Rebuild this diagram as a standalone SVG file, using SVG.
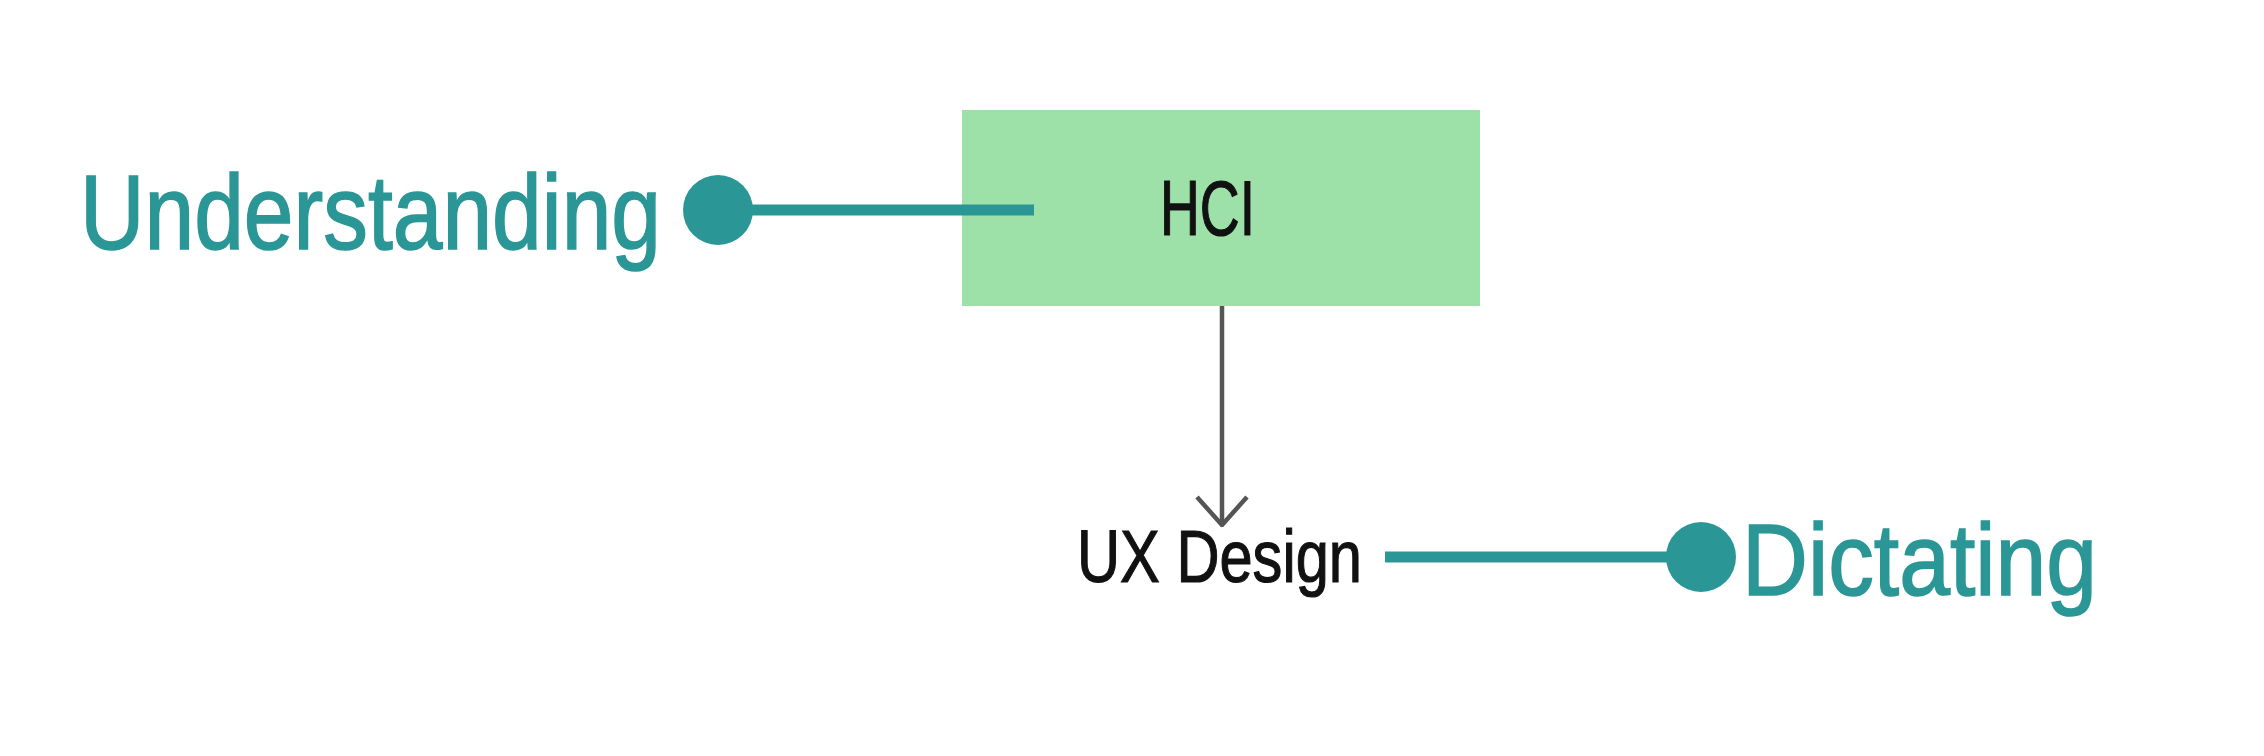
<svg xmlns="http://www.w3.org/2000/svg" width="2264" height="756" viewBox="0 0 2264 756">
<style>
.teal{fill:#2b9696;stroke:#2b9696;stroke-width:1.6;font-family:"Liberation Sans","DejaVu Sans",sans-serif;}
.dark{fill:#111;stroke:#111;stroke-width:1.2;font-family:"Liberation Sans","DejaVu Sans",sans-serif;}
.tline{stroke:#2b9696;stroke-width:11;fill:none;}
.dot{fill:#2b9696;}
.arrow{stroke:#555;stroke-width:4.5;fill:none;}
</style>
<defs>
<marker id="open" viewBox="0 0 32 54" refX="30" refY="27" markerWidth="32" markerHeight="54" markerUnits="userSpaceOnUse" orient="auto">
<polyline points="2,2 30,27 2,52" fill="none" stroke="#555" stroke-width="4.5"/>
</marker>
</defs>
<rect width="2264" height="756" fill="#fff"/>
<g id="connectors">
<line class="tline" x1="718" y1="210" x2="1034" y2="210"/>
<line class="arrow" x1="1222" y1="306" x2="1222" y2="525" marker-end="url(#open)"/>
<line class="tline" x1="1385" y1="557" x2="1701" y2="557"/>
</g>
<g id="hci">
<rect x="962" y="110" width="518" height="196" fill="#9de0a8"/>
<line class="tline" x1="962" y1="210" x2="1034" y2="210"/>
<text class="dark" x="1160" y="235" font-size="78" textLength="95" lengthAdjust="spacingAndGlyphs">HCI</text>
</g>
<g id="understanding">
<text class="teal" x="80" y="249" font-size="106" textLength="581" lengthAdjust="spacingAndGlyphs">Understanding</text>
<circle class="dot" cx="718" cy="210" r="35"/>
</g>
<g id="ux-design">
<text class="dark" x="1077" y="582" font-size="75" textLength="285" lengthAdjust="spacingAndGlyphs">UX Design</text>
</g>
<g id="dictating">
<circle class="dot" cx="1701" cy="557" r="35"/>
<text class="teal" x="1742" y="595" font-size="102" textLength="355" lengthAdjust="spacingAndGlyphs">Dictating</text>
</g>
</svg>
